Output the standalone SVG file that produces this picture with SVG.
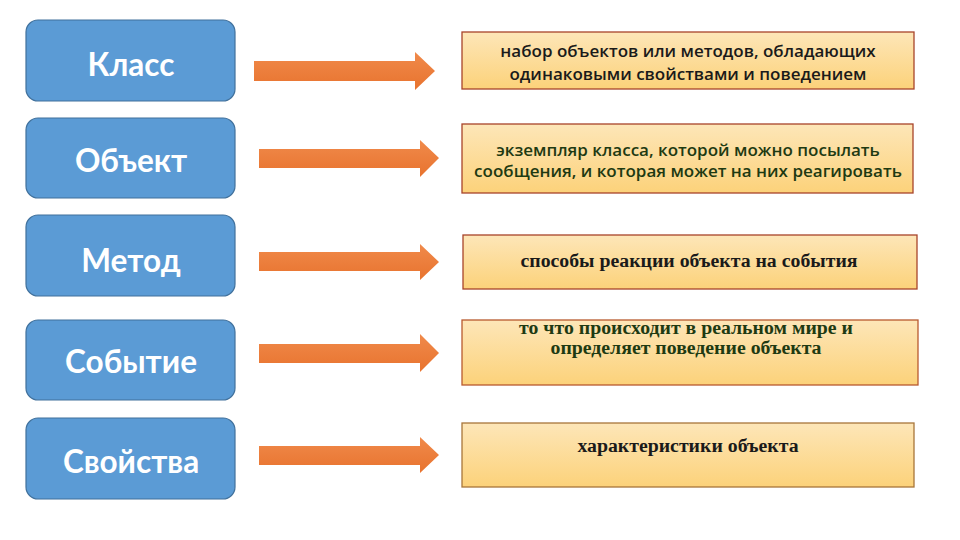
<svg xmlns="http://www.w3.org/2000/svg" width="960" height="540" viewBox="0 0 960 540">
  <defs>
    <linearGradient id="gArrow" x1="0" y1="0" x2="0" y2="1">
      <stop offset="0" stop-color="#f08a4b"/>
      <stop offset="1" stop-color="#e8732e"/>
    </linearGradient>
    <linearGradient id="gBox" x1="0" y1="0" x2="0" y2="1">
      <stop offset="0" stop-color="#fde6b8"/>
      <stop offset="1" stop-color="#fcd27a"/>
    </linearGradient>
    <style>
      .term rect { fill: #5b9bd5; stroke: #41719c; stroke-width: 1.2; }
      .term text { font-family: Lato, "Open Sans", "Liberation Sans", sans-serif; font-weight: bold; font-size: 31.5px; fill: #ffffff; text-anchor: middle; }
      .def rect { fill: url(#gBox); stroke-width: 1.3; }
      .sans { font-family: "Open Sans", "Liberation Sans", sans-serif; font-weight: 600; font-size: 17px; text-anchor: middle; }
      .serif { font-family: "Liberation Serif", "DejaVu Serif", serif; font-weight: bold; font-size: 19.8px; text-anchor: middle; }
      .arrow { fill: url(#gArrow); }
    </style>
  </defs>
  <rect width="960" height="540" fill="#ffffff"/>

  <g id="term-class" class="term">
    <rect x="26" y="20" width="209" height="81" rx="12"/>
    <text x="131" y="76">Класс</text>
  </g>
  <g id="term-object" class="term">
    <rect x="26" y="118" width="209" height="80" rx="12"/>
    <text x="131" y="172">Объект</text>
  </g>
  <g id="term-method" class="term">
    <rect x="26" y="215" width="209" height="81" rx="12"/>
    <text x="131" y="272">Метод</text>
  </g>
  <g id="term-event" class="term">
    <rect x="26" y="320" width="209" height="80" rx="12"/>
    <text x="131" y="373">Событие</text>
  </g>
  <g id="term-props" class="term">
    <rect x="26" y="418" width="209" height="81" rx="12"/>
    <text x="131" y="473">Свойства</text>
  </g>

  <g id="def-class" class="def">
    <rect x="462" y="32" width="452" height="57" stroke="#a8442a"/>
    <text class="sans" fill="#1a1a1a" x="688" y="57">набор объектов или методов, обладающих</text>
    <text class="sans" fill="#1a1a1a" x="688" y="80">одинаковыми свойствами и поведением</text>
  </g>
  <g id="def-object" class="def">
    <rect x="462" y="124" width="451" height="69" stroke="#a8442a"/>
    <text class="sans" fill="#1e3a12" x="688" y="156">экземпляр класса, которой можно посылать</text>
    <text class="sans" fill="#1e3a12" x="688" y="177">сообщения, и которая может на них реагировать</text>
  </g>
  <g id="def-method" class="def">
    <rect x="463" y="235" width="454" height="54" stroke="#a8442a"/>
    <text class="serif" fill="#1a1a1a" x="689" y="267">способы реакции объекта на события</text>
  </g>
  <g id="def-event" class="def">
    <rect x="462" y="320" width="456" height="65" stroke="#b85a2e"/>
    <text class="serif" fill="#1e3a12" x="686" y="334">то что происходит в реальном мире и</text>
    <text class="serif" fill="#1e3a12" x="686" y="354">определяет поведение объекта</text>
  </g>
  <g id="def-props" class="def">
    <rect x="462" y="423" width="452" height="64" stroke="#a8763a"/>
    <text class="serif" fill="#1a1a1a" x="688" y="452">характеристики объекта</text>
  </g>

  <g id="connectors">
    <polygon class="arrow" points="254,61 415,61 415,52 435,71 415,90 415,81 254,81"/>
    <polygon class="arrow" points="259,149 420,149 420,140 439,158 420,177 420,168 259,168"/>
    <polygon class="arrow" points="259,252 420,252 420,244 439,262 420,280 420,271 259,271"/>
    <polygon class="arrow" points="259,344 420,344 420,334 439,353 420,372 420,363 259,363"/>
    <polygon class="arrow" points="259,446 420,446 420,437 439,455 420,473 420,465 259,465"/>
  </g>
</svg>
